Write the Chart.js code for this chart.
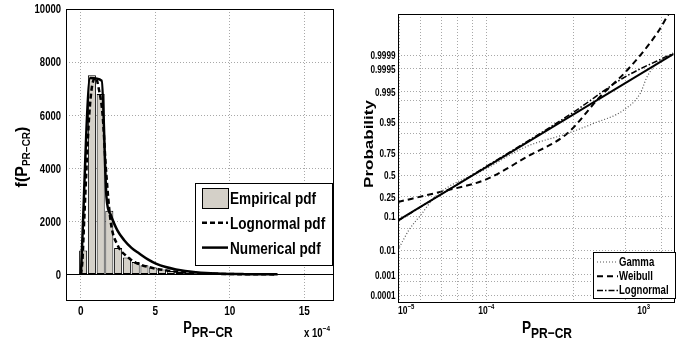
<!DOCTYPE html>
<html>
<head>
<meta charset="utf-8">
<script src="https://cdn.jsdelivr.net/npm/chart.js@4.4.0/dist/chart.umd.min.js"></script>
<style>
body { margin: 0; background: #fff; }
canvas { position: absolute; top: 0; }
#pdfChart { left: 0; }
#probChart { left: 345px; }
</style>
</head>
<body>
<canvas id="pdfChart" width="345" height="345"></canvas>
<canvas id="probChart" width="348" height="345"></canvas>
<script>
// ---- left panel: pdf of P_PR-CR (x in units of 1e-4) ----
const binCenters = [0.15, 0.74, 1.33, 1.91, 2.50, 3.09, 3.68, 4.27, 4.86, 5.45, 6.04, 6.63,
                    7.22, 7.80, 8.39, 8.98, 9.57, 10.16, 10.75, 11.34, 11.93, 12.52, 13.11];
const empiricalPdf = [900, 7500, 6800, 2400, 1000, 640, 470, 350, 260, 190, 130, 90,
                      65, 45, 32, 22, 15, 10, 7, 5, 4, 3, 2];

const lognX = [0, 0.1, 0.22, 0.4, 0.56, 0.75, 1.0, 1.2, 1.46, 1.68, 2.0, 2.47, 3.14, 3.7, 4.7, 5.94, 7, 8, 9, 10, 11, 12, 13.2];
const lognY = [0, 500, 2000, 4300, 6000, 7100, 7400, 7000, 6000, 4000, 2000, 1100, 660, 440, 260, 135, 75, 45, 25, 15, 8, 5, 2];

const numX = [0, 0.63, 1.4, 1.72, 2.0, 2.46, 2.91, 3.4, 3.92, 4.5, 5.04, 5.7, 6.38, 7.0, 7.73, 8.4, 9.07, 10, 11, 12, 13.2];
const numY = [0, 7400, 7300, 2900, 2250, 1650, 1290, 1000, 790, 570, 410, 280, 190, 130, 85, 55, 35, 20, 12, 7, 3];

const pdfXTicks = [0, 5, 10, 15];
const pdfXLabels = ['0', '5', '10', '15'];
const pdfYTicks = [0, 2000, 4000, 6000, 8000, 10000];
const pdfYLabels = ['0', '2000', '4000', '6000', '8000', '10000'];

// ---- right panel: probability plot ----
const solidX = [9.66e-6, 1.413e-2];
const solidP = [0.0808, 0.99991];

const gammaX = [9.66e-6, 1.29e-5, 1.82e-5, 2.57e-5, 1e-4, 2.88e-4, 8.51e-4, 1.70e-3, 3.80e-3, 5.89e-3, 7.08e-3, 1e-2, 1.413e-2];
const gammaP = [0.0102, 0.0446, 0.117, 0.251, 0.579, 0.811, 0.901, 0.945, 0.978, 0.9943, 0.99886, 0.99981, 0.9999];

const weibullX = [9.66e-6, 2.95e-5, 1e-4, 2.95e-4, 8.51e-4, 2.04e-3, 4.17e-3, 9.12e-3, 1.3e-2];
const weibullP = [0.203, 0.302, 0.448, 0.716, 0.901, 0.9925, 0.99942, 0.999994, 0.9999998];

const lognormX = [9.66e-6, 1e-4, 1e-3, 3.72e-3, 1.413e-2];
const lognormP = [0.078, 0.606, 0.974, 0.99865, 0.99992];

const probXGrid = [1e-5, 1.74e-5, 3.02e-5, 4.73e-5, 6.97e-5, 1e-4, 1e-3, 3.94e-3, 1.04e-2];
const probXLabelAt = [1e-5, 1e-4, 6.46e-3];
const probXLabelExp = ['\u22125', '\u22124', '3'];

const probYTicks = [0.0001, 0.0005, 0.001, 0.005, 0.01, 0.05, 0.1, 0.25, 0.5, 0.75, 0.9, 0.95, 0.99, 0.995, 0.9995, 0.9999];
const probYLabels = ['0.0001', '', '0.001', '', '0.01', '', '0.1', '0.25', '0.5', '0.75', '', '0.95', '', '0.995', '0.9995', '0.9999'];

const SANS = "'Liberation Sans', Arial, sans-serif";
const GRID = '#a8a8a8';

// inverse normal cdf (Acklam) for the probability axis
function probit(p) {
    const a = [-3.969683028665376e+01, 2.209460984245205e+02, -2.759285104469687e+02, 1.383577518672690e+02, -3.066479806614716e+01, 2.506628277459239e+00];
    const b = [-5.447609879822406e+01, 1.615858368580409e+02, -1.556989798598866e+02, 6.680131188771972e+01, -1.328068155288572e+01];
    const c = [-7.784894002430293e-03, -3.223964580411365e-01, -2.400758277161838e+00, -2.549732539343734e+00, 4.374664141464968e+00, 2.938163982698783e+00];
    const d = [7.784695709041462e-03, 3.224671290700398e-01, 2.445134137142996e+00, 3.754408661907416e+00];
    const tail = q => (((((c[0]*q+c[1])*q+c[2])*q+c[3])*q+c[4])*q+c[5]) / ((((d[0]*q+d[1])*q+d[2])*q+d[3])*q+1);
    if (p < 0.02425) return tail(Math.sqrt(-2 * Math.log(p)));
    if (p > 1 - 0.02425) return -tail(Math.sqrt(-2 * Math.log(1 - p)));
    const q = p - 0.5, r = q * q;
    return (((((a[0]*r+a[1])*r+a[2])*r+a[3])*r+a[4])*r+a[5])*q / (((((b[0]*r+b[1])*r+b[2])*r+b[3])*r+b[4])*r+1);
}

class ProbitScale extends Chart.LinearScale {
    static id = 'probit';
    static defaults = Chart.LinearScale.defaults;
    getPixelForValue(value) {
        return super.getPixelForValue(probit(value));
    }
}
Chart.register(ProbitScale);

// text with sub/superscript parts: [text, size, dy]
function richText(ctx, parts, x, y, align, squeeze, rotate) {
    ctx.save();
    ctx.translate(x, y);
    if (rotate) {
        ctx.rotate(-Math.PI / 2);
        ctx.scale(1, squeeze);
    } else {
        ctx.scale(squeeze, 1);
    }
    let w = 0;
    parts.forEach(p => { ctx.font = `bold ${p[1]}px ${SANS}`; w += ctx.measureText(p[0]).width; });
    let cx = align === 'center' ? -w / 2 : (align === 'right' ? -w : 0);
    ctx.fillStyle = '#000';
    ctx.textAlign = 'left';
    ctx.textBaseline = 'alphabetic';
    parts.forEach(p => {
        ctx.font = `bold ${p[1]}px ${SANS}`;
        ctx.fillText(p[0], cx, p[2]);
        cx += ctx.measureText(p[0]).width;
    });
    ctx.restore();
}

function frame(ctx, a) {
    ctx.save();
    ctx.strokeStyle = '#000';
    ctx.lineWidth = 1;
    ctx.strokeRect(a.left + 0.5, a.top + 0.5, a.width - 1, a.height - 1);
    ctx.restore();
}

const pdfDecor = {
    id: 'pdfDecor',
    afterDatasetsDraw(chart) {
        const { ctx, chartArea: a, scales: { y } } = chart;
        const y0 = Math.round(y.getPixelForValue(0)) + 0.5;
        ctx.save();
        ctx.strokeStyle = '#000';
        ctx.lineWidth = 1;
        ctx.beginPath();
        ctx.moveTo(a.left, y0);
        ctx.lineTo(a.right, y0);
        ctx.stroke();
        ctx.restore();
    },
    afterDraw(chart) {
        const { ctx, chartArea: a, scales: { x, y } } = chart;
        frame(ctx, a);
        // tick labels
        pdfXTicks.forEach((v, i) => {
            richText(ctx, [[pdfXLabels[i], 12.5, 0]], x.getPixelForValue(v), 315, 'center', 0.8, false);
        });
        pdfYTicks.forEach((v, i) => {
            richText(ctx, [[pdfYLabels[i], 12.5, 0]], 61, y.getPixelForValue(v) + 4.4, 'right', 0.76, false);
        });
        // legend
        const ds = chart.data.datasets;
        const bx = 195, by = 183, bw = 137, bh = 82;
        ctx.save();
        ctx.fillStyle = '#fff';
        ctx.fillRect(bx, by, bw, bh);
        ctx.strokeStyle = '#000';
        ctx.lineWidth = 1;
        ctx.strokeRect(bx + 0.5, by + 0.5, bw, bh);
        ds.forEach((d, i) => {
            const cy = 198 + i * 24.8;
            if (d.type === 'bar') {
                ctx.fillStyle = d.backgroundColor;
                ctx.fillRect(202, cy - 10, 26, 20);
                ctx.strokeStyle = '#000';
                ctx.lineWidth = 1;
                ctx.strokeRect(202.5, cy - 9.5, 26, 20);
            } else {
                ctx.strokeStyle = '#000';
                ctx.lineWidth = d.borderWidth;
                ctx.setLineDash(d.borderDash || []);
                ctx.beginPath();
                ctx.moveTo(202, cy);
                ctx.lineTo(228, cy);
                ctx.stroke();
                ctx.setLineDash([]);
            }
            richText(ctx, [[d.label, 17, 0]], 230, cy + 6, 'left', 0.8, false);
        });
        ctx.restore();
        // axis titles
        richText(ctx, [['f(P', 16, 0], ['PR\u2212CR', 10, 3], [')', 16, 0]], 27, 157, 'center', 1, true);
        richText(ctx, [['P', 16, 0], ['PR\u2212CR', 15, 4]], 208, 333, 'center', 0.8, false);
        richText(ctx, [['x 10', 12, 0], ['\u22124', 8, -6]], 304, 337, 'left', 0.8, false);
    }
};

// right canvas sits 345px from the page's left edge; coordinates below are local
const probDecor = {
    id: 'probDecor',
    afterDraw(chart) {
        const { ctx, chartArea: a, scales: { x, y } } = chart;
        frame(ctx, a);
        // y tick labels
        probYTicks.forEach((v, i) => {
            if (probYLabels[i]) {
                richText(ctx, [[probYLabels[i], 10.5, 0]], 50.5, y.getPixelForValue(v) + 3.7, 'right', 0.78, false);
            }
        });
        // x tick labels 10^n
        probXLabelAt.forEach((v, i) => {
            const px = x.getPixelForValue(v);
            const align = i === 0 ? 'left' : 'center';
            richText(ctx, [['10', 10, 0], [probXLabelExp[i], 7, -5]], i === 0 ? a.left : px, 314, align, 0.85, false);
        });
        richText(ctx, [['P', 17, 0], ['PR\u2212CR', 15, 5]], 202, 333, 'center', 0.8, false);
        richText(ctx, [['Probability', 17, 0]], 28, 144, 'center', 0.72, true);
        // legend
        const ds = chart.data.datasets.filter(d => d.label);
        const bx = 248, by = 252, bw = 82, bh = 46;
        ctx.save();
        ctx.fillStyle = '#fff';
        ctx.fillRect(bx, by, bw, bh);
        ctx.strokeStyle = '#000';
        ctx.lineWidth = 1;
        ctx.strokeRect(bx + 0.5, by + 0.5, bw, bh);
        ds.forEach((d, i) => {
            const cy = 262 + i * 14.2;
            ctx.strokeStyle = d.borderColor;
            ctx.lineWidth = d.borderWidth;
            ctx.setLineDash(d.borderDash || []);
            ctx.beginPath();
            ctx.moveTo(252, cy);
            ctx.lineTo(273, cy);
            ctx.stroke();
            ctx.setLineDash([]);
            richText(ctx, [[d.label, 12, 0]], 274, cy + 4, 'left', 0.8, false);
        });
        ctx.restore();
    }
};

new Chart(document.getElementById('pdfChart'), {
    type: 'bar',
    data: {
        datasets: [
            {
                type: 'bar',
                label: 'Empirical pdf',
                data: binCenters.map((c, i) => ({ x: c, y: empiricalPdf[i] })),
                backgroundColor: '#d4d0c8',
                borderColor: '#000',
                borderWidth: 1,
                borderSkipped: false,
                barPercentage: 0.93,
                categoryPercentage: 1,
                order: 3
            },
            {
                type: 'line',
                label: 'Lognormal pdf',
                data: lognX.map((x, i) => ({ x: x, y: lognY[i] })),
                borderColor: '#000',
                borderWidth: 2.5,
                borderDash: [5, 3],
                pointRadius: 0,
                fill: false,
                cubicInterpolationMode: 'monotone',
                order: 2
            },
            {
                type: 'line',
                label: 'Numerical pdf',
                data: numX.map((x, i) => ({ x: x, y: numY[i] })),
                borderColor: '#000',
                borderWidth: 2.5,
                pointRadius: 0,
                fill: false,
                cubicInterpolationMode: 'monotone',
                order: 1
            }
        ]
    },
    options: {
        responsive: false,
        animation: false,
        devicePixelRatio: 1,
        layout: { padding: { top: 9, right: 11, left: 0, bottom: 0 } },
        plugins: { legend: { display: false }, tooltip: { enabled: false } },
        scales: {
            x: {
                type: 'linear',
                min: -1,
                max: 17,
                bounds: 'data',
                offset: false,
                afterBuildTicks: s => { s.ticks = pdfXTicks.map(v => ({ value: v })); },
                afterFit: s => { s.height = 44; },
                grid: { color: GRID, drawTicks: false, offset: false },
                border: { display: false, dash: [1, 2] },
                ticks: { display: false }
            },
            y: {
                type: 'linear',
                min: -1000,
                max: 10000,
                bounds: 'data',
                afterBuildTicks: s => { s.ticks = pdfYTicks.map(v => ({ value: v })); },
                afterFit: s => { s.width = 66; },
                grid: { color: GRID, drawTicks: false },
                border: { display: false, dash: [1, 2] },
                ticks: { display: false }
            }
        }
    },
    plugins: [pdfDecor]
});

new Chart(document.getElementById('probChart'), {
    type: 'line',
    data: {
        datasets: [
            {
                data: solidX.map((x, i) => ({ x: x, y: solidP[i] })),
                borderColor: '#000',
                borderWidth: 2,
                pointRadius: 0
            },
            {
                label: 'Gamma',
                data: gammaX.map((x, i) => ({ x: x, y: gammaP[i] })),
                borderColor: '#555',
                borderWidth: 1.2,
                borderDash: [1, 2],
                pointRadius: 0,
                cubicInterpolationMode: 'monotone'
            },
            {
                label: 'Weibull',
                data: weibullX.map((x, i) => ({ x: x, y: weibullP[i] })),
                borderColor: '#000',
                borderWidth: 2,
                borderDash: [6, 4],
                pointRadius: 0,
                cubicInterpolationMode: 'monotone'
            },
            {
                label: 'Lognormal',
                data: lognormX.map((x, i) => ({ x: x, y: lognormP[i] })),
                borderColor: '#000',
                borderWidth: 1.5,
                borderDash: [6, 2, 1.5, 2],
                pointRadius: 0,
                cubicInterpolationMode: 'monotone'
            }
        ]
    },
    options: {
        responsive: false,
        animation: false,
        devicePixelRatio: 1,
        layout: { padding: { top: 14, right: 18, left: 0, bottom: 0 } },
        plugins: { legend: { display: false }, tooltip: { enabled: false } },
        scales: {
            x: {
                type: 'logarithmic',
                min: 9.66e-6,
                max: 1.48e-2,
                bounds: 'data',
                afterBuildTicks: s => { s.ticks = probXGrid.map(v => ({ value: v })); },
                afterFit: s => { s.height = 42; },
                grid: { color: GRID, drawTicks: false },
                border: { display: false, dash: [1, 2] },
                ticks: { display: false }
            },
            y: {
                type: 'probit',
                min: -3.96,
                max: 4.99,
                bounds: 'data',
                afterBuildTicks: s => { s.ticks = probYTicks.map(v => ({ value: v })); },
                afterFit: s => { s.width = 53; },
                grid: { color: GRID, drawTicks: false },
                border: { display: false, dash: [1, 2] },
                ticks: { display: false }
            }
        }
    },
    plugins: [probDecor]
});
</script>
</body>
</html>
